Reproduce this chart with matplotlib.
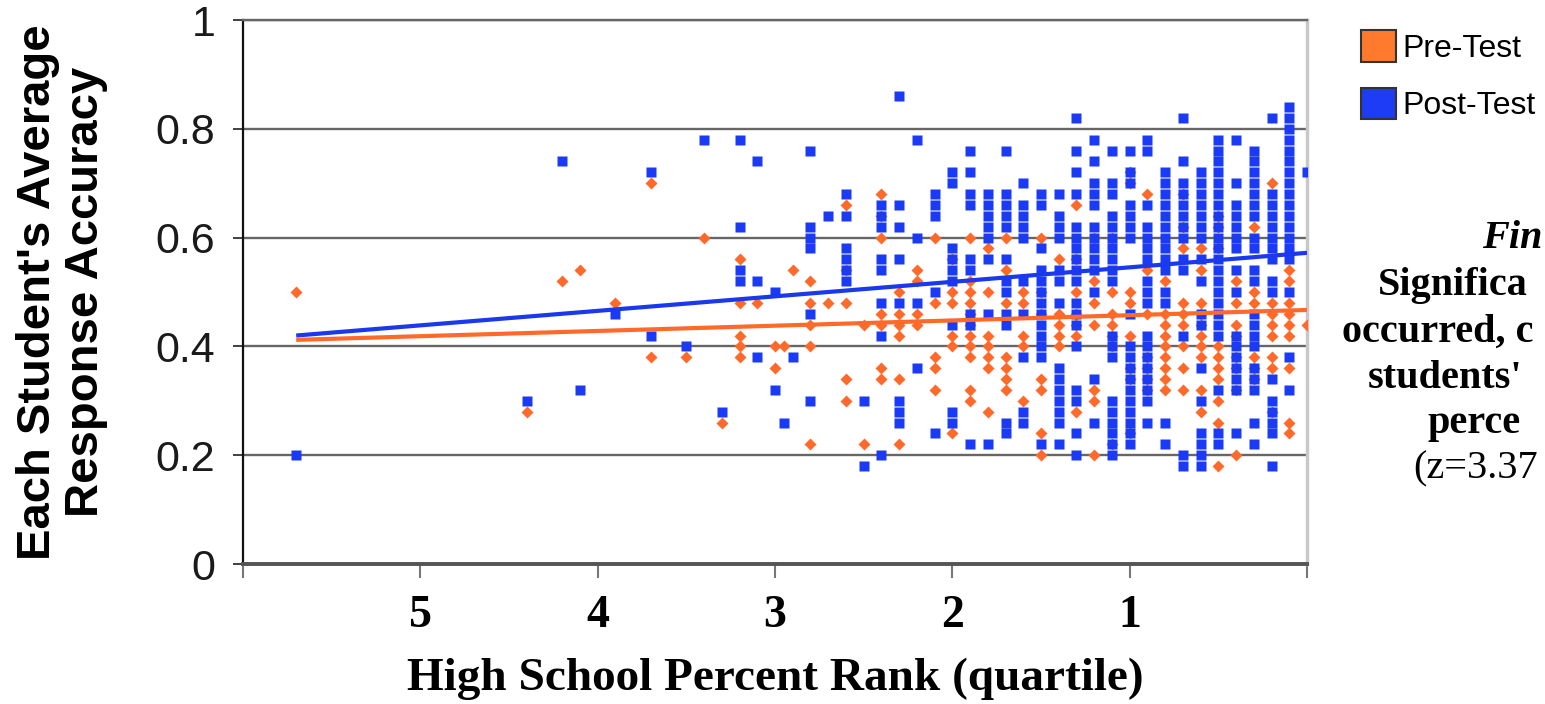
import matplotlib
matplotlib.use("Agg")
import matplotlib.pyplot as plt
from matplotlib.patches import Patch

# ---------------- data (accuracy in percent, keyed by HS percent rank) ----------------
post_by_rank = {
    0: [72],
    1: [84, 82, 80, 78, 76, 74, 72, 70, 68, 66, 64, 62, 60, 58, 56, 50, 38, 32],
    2: [82, 68, 66, 64, 62, 60, 58, 56, 52, 50, 34, 30, 28, 26, 24, 18],
    3: [76, 74, 72, 70, 68, 66, 64, 60, 58, 54, 52, 46, 44, 42, 40, 36, 34, 32, 26, 22],
    4: [78, 70, 66, 64, 62, 60, 58, 54, 50, 42, 40, 38, 36, 34, 32, 24],
    5: [78, 76, 74, 72, 70, 68, 66, 64, 62, 60, 58, 56, 54, 52, 50, 48, 46, 44, 42, 32, 24, 22],
    6: [72, 70, 68, 66, 64, 62, 60, 56, 52, 46, 44, 36, 30, 24, 22, 20, 18],
    7: [82, 74, 70, 68, 66, 64, 62, 60, 56, 54, 42, 20, 18],
    8: [72, 70, 68, 66, 64, 62, 60, 58, 56, 54, 50, 48, 26, 22],
    9: [78, 76, 66, 62, 60, 58, 56, 52, 50, 48, 42, 40, 38, 36, 34, 32, 30, 26],
    10: [76, 72, 70, 66, 64, 62, 60, 46, 40, 38, 36, 34, 32, 30, 28, 26, 24, 22],
    11: [76, 70, 68, 64, 62, 60, 58, 56, 54, 52, 42, 40, 38, 30, 28, 26, 24, 22, 20],
    12: [78, 74, 70, 68, 66, 62, 60, 58, 56, 54, 50, 34, 26],
    13: [82, 76, 72, 68, 62, 60, 58, 56, 54, 52, 48, 46, 44, 40, 32, 30, 24, 20],
    14: [68, 64, 62, 60, 54, 52, 48, 36, 34, 32, 30, 28, 26, 22],
    15: [68, 66, 58, 54, 52, 50, 48, 46, 44, 42, 40, 38, 22],
    16: [70, 66, 64, 62, 60, 52, 46, 38, 28, 26],
    17: [76, 68, 66, 64, 62, 56, 52, 50, 46, 44, 26, 24],
    18: [68, 66, 64, 62, 60, 56, 46, 22],
    19: [76, 72, 68, 66, 56, 54, 46, 44, 22],
    20: [72, 70, 58, 56, 54, 52, 44, 28, 26],
    21: [68, 66, 64, 50, 24],
    22: [78, 60, 48, 36],
    23: [86, 66, 62, 56, 48, 30, 28, 26],
    24: [66, 64, 62, 56, 54, 48, 42, 20],
    25: [30, 18],
    26: [68, 64, 58, 56, 54, 52],
    27: [64],
    28: [76, 62, 60, 58, 46, 30],
    29: [38],
    29.5: [26],
    30: [50, 32],
    31: [74, 52, 38],
    32: [78, 62, 54, 52],
    33: [28],
    34: [78],
    35: [40],
    37: [72, 42],
    39: [46],
    41: [32],
    42: [74],
    44: [30],
    57: [20],
}

pre_by_rank = {
    0: [44],
    1: [54, 52, 48, 46, 44, 42, 36, 26, 24],
    2: [70, 48, 46, 44, 42, 38, 36, 28],
    3: [62, 50, 48, 38, 36, 34],
    4: [52, 48, 44, 42, 38, 36, 32, 20],
    5: [64, 62, 58, 40, 38, 36, 34, 30, 26, 18],
    6: [58, 54, 48, 46, 44, 42, 40, 38, 32, 28],
    7: [68, 62, 58, 48, 46, 44, 40, 36, 32],
    8: [52, 46, 44, 42, 40, 38, 36, 34, 32],
    9: [68, 54, 46, 38, 36, 34, 32],
    10: [72, 70, 50, 48, 42, 36, 34, 24],
    11: [60, 50, 46, 44, 42, 40, 22],
    12: [60, 52, 48, 44, 32, 30, 20],
    13: [66, 56, 50, 46, 44, 42, 28],
    14: [56, 46, 44, 42, 40],
    15: [60, 50, 46, 34, 32, 24, 20],
    16: [50, 48, 42, 40, 30],
    17: [60, 54, 48, 38, 36, 34, 32],
    18: [58, 50, 42, 40, 38, 36, 28],
    19: [60, 52, 50, 48, 46, 44, 42, 40, 38, 32, 30],
    20: [56, 50, 48, 42, 40, 24],
    21: [60, 48, 38, 36, 32],
    22: [54, 52, 46, 44],
    23: [50, 46, 44, 42, 34, 22],
    24: [68, 64, 60, 46, 44, 36, 34],
    25: [44, 22],
    26: [66, 54, 48, 34, 30],
    27: [48],
    28: [52, 48, 44, 40, 22],
    29: [54],
    29.5: [40],
    30: [40, 36],
    31: [48],
    32: [56, 48, 42, 40, 38],
    33: [26],
    34: [60],
    35: [38],
    37: [70, 38],
    39: [48],
    41: [54],
    42: [52],
    44: [28],
    57: [50],
}

# linear trend lines (rank -> accuracy)
trend_rank = [57, 0]
pre_trend = [0.412, 0.467]
post_trend = [0.420, 0.572]

x_ticks = [60, 50, 40, 30, 20, 10, 0]
x_tick_labels = ["", "5", "4", "3", "2", "1", ""]
y_ticks = [0, 0.2, 0.4, 0.6, 0.8, 1.0]
y_tick_labels = ["0", "0.2", "0.4", "0.6", "0.8", "1"]
series_names = ["Pre-Test", "Post-Test"]
side_lines = ["Fin", "Significa", "occurred, c", "students'", "perce", "(z=3.37"]


def expand(d):
    xs, ys = [], []
    for r, vals in d.items():
        for v in vals:
            xs.append(r)
            ys.append(v / 100.0)
    return xs, ys


pre_x, pre_y = expand(pre_by_rank)
post_x, post_y = expand(post_by_rank)

ORANGE = "#ff6a2b"
BLUE = "#1a3af5"
W, H = 1545, 704

fig = plt.figure(figsize=(W / 100, H / 100), dpi=100)
ax = fig.add_axes([243 / W, 1 - 564 / H, (1307 - 243) / W, (564 - 20) / H])

ax.plot(pre_x, pre_y, linestyle="none", marker="D", ms=6.2, color=ORANGE, mec="none", zorder=3)
ax.plot(post_x, post_y, linestyle="none", marker="s", ms=7.2, color=BLUE, mec="none", zorder=4)
ax.plot(trend_rank, post_trend, color="#1a38ec", lw=3, zorder=5, solid_capstyle="butt")
ax.plot(trend_rank, pre_trend, color=ORANGE, lw=3, zorder=6, solid_capstyle="butt")

ax.set_xlim(60, 0)
ax.set_ylim(0, 1)

ax.set_yticks(y_ticks)
ax.set_yticklabels(y_tick_labels, fontsize=31, family="Liberation Sans", color="#1a1a1a")
ax.set_xticks(x_ticks)
ax.set_xticklabels(x_tick_labels, fontsize=33, family="Liberation Serif", fontweight="bold")
ax.tick_params(axis="y", direction="out", length=7, width=1.3, color="#333333", pad=13)
ax.tick_params(axis="x", direction="out", length=10, width=1.5, color="#777777", pad=12)

ax.yaxis.grid(True, color="#666666", lw=1.7)
ax.set_axisbelow(True)
ax.spines["left"].set_color("#111111")
ax.spines["left"].set_linewidth(1.6)
ax.spines["bottom"].set_color("#555555")
ax.spines["bottom"].set_linewidth(2.8)
ax.spines["right"].set_color("#c8c8c8")
ax.spines["right"].set_linewidth(2.5)
ax.spines["top"].set_color("#666666")
ax.spines["top"].set_linewidth(1.7)

ax.set_ylabel("Each Student's Average\nResponse Accuracy", fontsize=34, fontweight="bold",
              family="Liberation Sans", linespacing=1.12, labelpad=34)
ax.set_xlabel("High School Percent Rank (quartile)", fontsize=34, fontweight="bold",
              family="Liberation Serif", labelpad=15)

handles = [Patch(facecolor="#ff7a2c", edgecolor="#333333", lw=1.5, label=series_names[0]),
           Patch(facecolor="#1e3cf5", edgecolor="#333333", lw=1.5, label=series_names[1])]
fig.legend(handles=handles, loc="upper left", bbox_to_anchor=(1361 / W, 1 - 30 / H),
           frameon=False, prop={"family": "Liberation Sans", "size": 23},
           handlelength=1.1, handleheight=1.15, handletextpad=0.2, labelspacing=0.75,
           borderpad=0, borderaxespad=0)

side_x = [1482, 1378, 1342, 1368, 1428, 1413]
side_base = [248, 295, 342, 388, 433, 478]
for i, (s, xx, yy) in enumerate(zip(side_lines, side_x, side_base)):
    fig.text(xx / W, 1 - yy / H, s, fontsize=29, family="Liberation Serif",
             fontweight="normal" if i == 5 else "bold",
             style="italic" if i == 0 else "normal", ha="left", va="baseline")

fig.savefig("out.png", dpi=100)
